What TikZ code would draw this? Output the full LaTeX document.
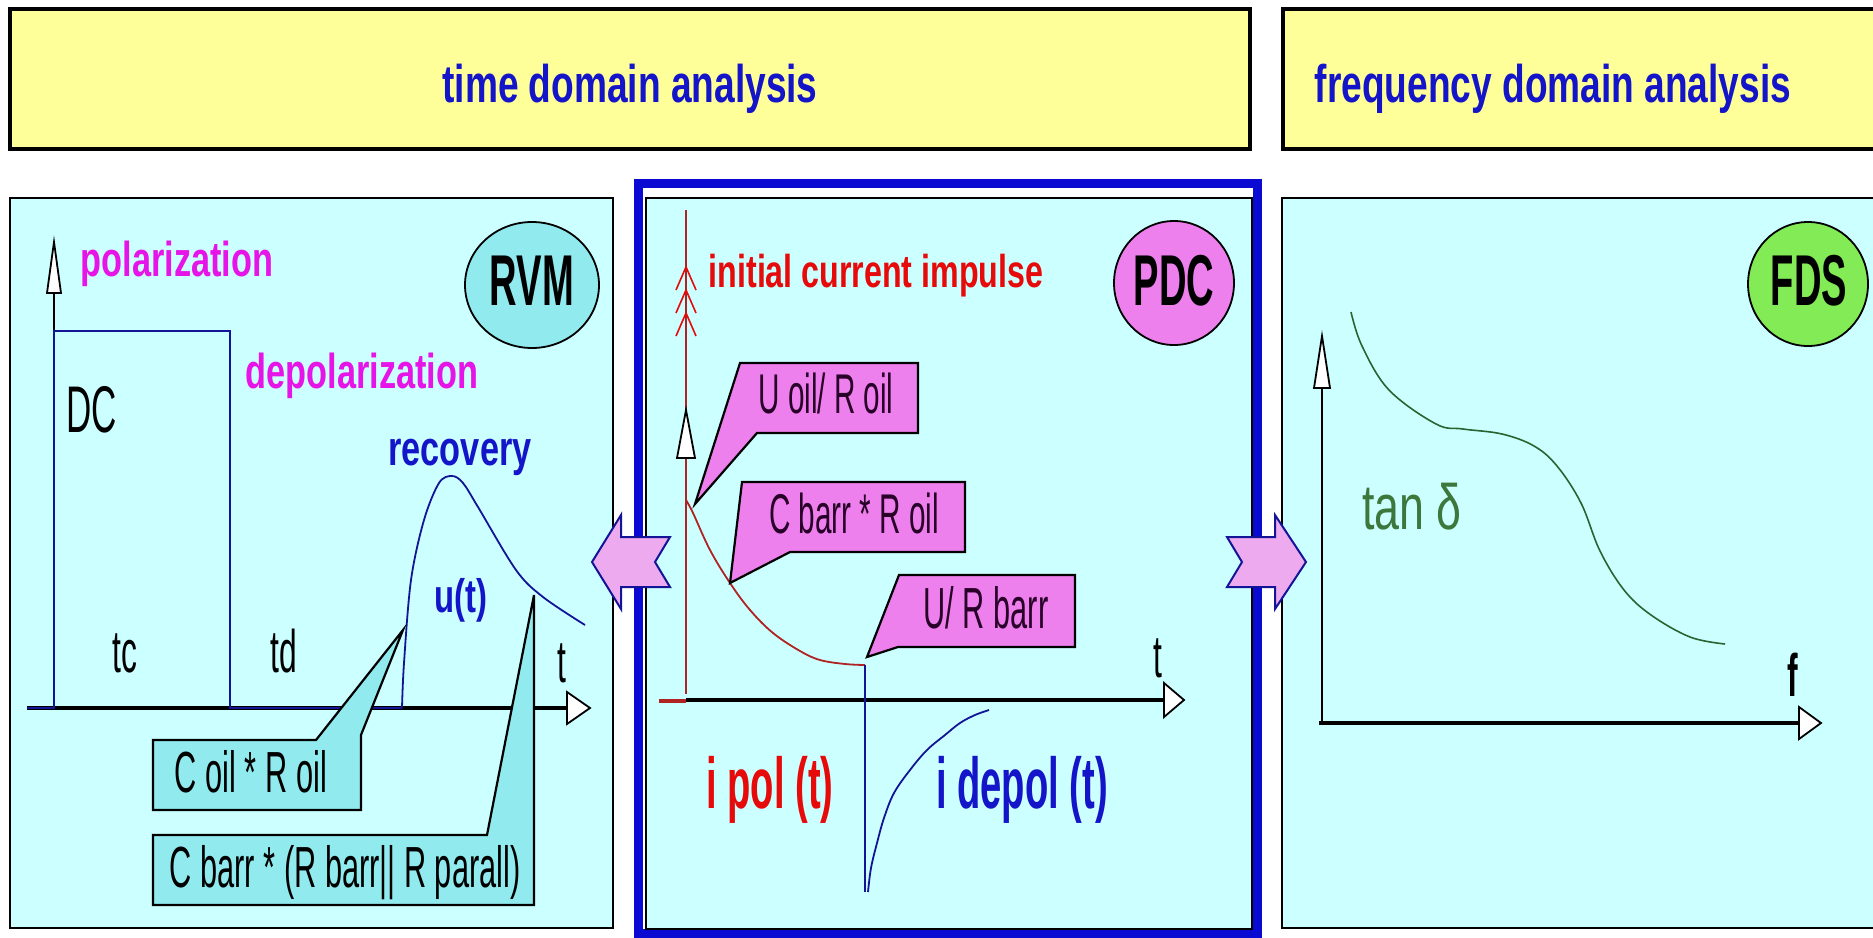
\documentclass[tikz,border=0pt]{standalone}
\usepackage{fontspec}
\setmainfont{Liberation Sans}
\newfontfamily\narrowsans[FakeStretch=0.53]{Liberation Sans}
\newfontfamily\midsans[FakeStretch=0.70]{Liberation Sans}
\newcommand{\fsz}[1]{\fontsize{#1}{#1}\selectfont}

\definecolor{panelcyan}{RGB}{204,255,255}
\definecolor{headyellow}{RGB}{255,255,153}
\definecolor{calloutcyan}{RGB}{145,235,238}
\definecolor{calloutpink}{RGB}{238,128,238}
\definecolor{arrowpink}{RGB}{238,170,238}
\definecolor{fdsgreen}{RGB}{130,235,85}
\definecolor{headblue}{RGB}{20,20,200}
\definecolor{navyline}{RGB}{20,20,150}
\definecolor{pdcblue}{RGB}{10,10,210}
\definecolor{magentatxt}{RGB}{230,20,230}
\definecolor{redtxt}{RGB}{230,10,10}
\definecolor{maroonline}{RGB}{175,35,35}
\definecolor{curvegreen}{RGB}{40,100,50}
\definecolor{tangreen}{RGB}{60,120,60}

\tikzset{
  panel/.style={draw=black, line width=1.3pt, fill=panelcyan},
  headbox/.style={draw=black, line width=2pt, fill=headyellow},
  openhead/.style={draw=black, fill=white, line width=0.9pt, line join=miter},
  axisline/.style={draw=black, line width=1.6pt},
  pulseline/.style={draw=navyline, line width=1.2pt},
  cyancallout/.style={draw=black, line width=1.1pt, fill=calloutcyan, line join=miter},
  pinkcallout/.style={draw=black, line width=1.1pt, fill=calloutpink, line join=miter},
  blockarrow/.style={draw=navyline, line width=1pt, fill=arrowpink, line join=miter},
  txt/.style={inner sep=0pt, anchor=base},
}

\begin{document}
\begin{tikzpicture}[x=0.5pt,y=0.5pt,yscale=-1,xscale=1]
\useasboundingbox (0,0) rectangle (1873,937);
\clip (0,0) rectangle (1873,937);
\fill [white] (0,0) rectangle (1873,937);

%Shape: Rectangle [headers]
\draw [headbox] (10,9) rectangle (1250,149);
\draw [headbox] (1283,9) rectangle (1890,149);
% Text Node
\draw (630,102) node [txt, text=headblue] (timehead) {\midsans\bfseries\fsz{26.5}time domain analysis};
% Text Node
\draw (1553,102) node [txt, text=headblue] (freqhead) {\midsans\bfseries\fsz{26.5}frequency domain analysis};

%Shape: Rectangle [panels]
\draw [panel] (10,198) rectangle (613,928);
\draw [draw=pdcblue, line width=4.5pt] (638,183) rectangle (1257,933);
\draw [panel] (646,198) rectangle (1252,929);
\draw [panel] (1282,198) rectangle (1890,928);

%%%%%%%% RVM panel
%Straight Lines
\draw [axisline] (27,708) -- (567,708);
\draw [openhead] (567,692) -- (590,708) -- (567,724) -- cycle;
\draw [axisline, line width=1.2pt] (54,708) -- (54,293);
\draw [openhead] (47,293) -- (54,242) -- (61,293) -- cycle;
%DC pulse
\draw [pulseline] (27,708) -- (54,708) -- (54,331) -- (230,331) -- (230,708) -- (402,708);
%Curve: recovery
\draw [pulseline, line width=0.9pt] plot [smooth, tension=0.55] coordinates {(402,708) (404,663) (411,580) (424,520) (439,483) (452,476) (463,483) (478,507) (516,570) (543,597) (585,625)};

% Text Node
\draw (177,276) node [txt, text=magentatxt] (poltxt) {\midsans\bfseries\fsz{24.5}polarization};
% Text Node
\draw (362,388) node [txt, text=magentatxt] (depoltxt) {\midsans\bfseries\fsz{24.5}depolarization};
% Text Node
\draw (460,465) node [txt, text=headblue] (recovtxt) {\midsans\bfseries\fsz{24.5}recovery};
% Text Node
\draw (461,612) node [txt, text=headblue] (utxt) {\midsans\bfseries\fsz{23.5}u(t)};
% Text Node
\draw (92,432) node [txt] (dctxt) {\narrowsans\fsz{33}DC};
% Text Node
\draw (125,672) node [txt] (tctxt) {\narrowsans\fsz{30}tc};
% Text Node
\draw (284,672) node [txt] (tdtxt) {\narrowsans\fsz{30}td};
% Text Node
\draw (562,682) node [txt] (tleft) {\narrowsans\fsz{30}t};

%Shape: Callouts
\draw [cyancallout] (153,740) -- (316,740) -- (403,630) -- (361,735) -- (361,810) -- (153,810) -- cycle;
\draw (251,792) node [txt] (coiltxt) {\narrowsans\fsz{29}C oil * R oil};
\draw [cyancallout] (153,835) -- (487,835) -- (534,595) -- (534,905) -- (153,905) -- cycle;
\draw (345,887) node [txt] (cbarrtxt) {\narrowsans\fsz{29}C barr * (R barr|| R parall)};

%Shape: Ellipse
\draw [fill=calloutcyan, line width=0.9pt] (532,285) ellipse [x radius=67, y radius=63];
\draw (532,305) node [txt] (rvmtxt) {\narrowsans\bfseries\fsz{36}RVM};

%%%%%%%% PDC panel
%Straight Lines
\draw [axisline] (686,700) -- (1164,700);
\draw [openhead] (1164,683) -- (1184,700) -- (1164,717) -- cycle;
\draw [draw=maroonline, line width=1.6pt] (659,701) -- (686,701);
\draw [draw=maroonline, line width=0.9pt] (686,210) -- (686,694);
\draw [openhead] (677,458) -- (686,410) -- (695,458) -- cycle;
%initial impulse heads
\foreach \ty in {267,290,313}
  \draw [draw=redtxt, line width=0.8pt] (676,\ty+23) -- (686,\ty) -- (696,\ty+23);
%Curve: i pol
\draw [draw=maroonline, line width=0.9pt] plot [smooth, tension=0.6] coordinates {(686,500) (693,513) (710,550) (730,583) (750,610) (773,633) (800,651) (820,660) (845,664) (865,665)};
%Curve: i depol
\draw [pulseline, line width=1pt] (865,665) -- (865,892);
\draw [pulseline, line width=0.9pt] plot [smooth, tension=0.6] coordinates {(868,892) (871,868) (877,843) (884,818) (894,793) (910,770) (927,750) (945,735) (960,723) (975,715) (989,710)};

%Shape: Callouts
\draw [pinkcallout] (740,363) -- (918,363) -- (918,433) -- (757,433) -- (695,504) -- cycle;
\draw (826,413) node [txt, text={rgb,255:red,40;green,0;blue,40}] (uoiltxt) {\narrowsans\fsz{28}U oil/ R oil};
\draw [pinkcallout] (742,482) -- (965,482) -- (965,552) -- (790,552) -- (730,583) -- cycle;
\draw (854,533) node [txt, text={rgb,255:red,40;green,0;blue,40}] (cbroiltxt) {\narrowsans\fsz{28}C barr * R oil};
\draw [pinkcallout] (899,575) -- (1075,575) -- (1075,647) -- (898,647) -- (867,657) -- cycle;
\draw (986,628) node [txt, text={rgb,255:red,40;green,0;blue,40}] (urbarrtxt) {\narrowsans\fsz{29}U/ R barr};

% Text Node
\draw (876,287) node [txt, text=redtxt] (impulsetxt) {\midsans\bfseries\fsz{23}initial current impulse};
% Text Node
\draw (1158,677) node [txt] (tmid) {\narrowsans\fsz{30}t};
% Text Node
\draw (770,808) node [txt, text=redtxt] (ipoltxt) {\narrowsans\bfseries\fsz{36}i pol (t)};
% Text Node
\draw (1022,808) node [txt, text=headblue] (idepoltxt) {\narrowsans\bfseries\fsz{36}i depol (t)};

%Shape: Ellipse
\draw [fill=calloutpink, line width=0.9pt] (1174,283) ellipse [x radius=60, y radius=62];
\draw (1174,305) node [txt] (pdctxt) {\narrowsans\bfseries\fsz{36}PDC};

%%%%%%%% FDS panel
%Straight Lines
\draw [axisline] (1319,723) -- (1799,723);
\draw [openhead] (1799,707) -- (1821,723) -- (1799,739) -- cycle;
\draw [axisline, line width=1.2pt] (1322,723) -- (1322,388);
\draw [openhead] (1314,388) -- (1322,336) -- (1330,388) -- cycle;
%Curve: tan delta
\draw [draw=curvegreen, line width=0.8pt] plot [smooth, tension=0.6] coordinates {(1351,312) (1362,346) (1389,390) (1436,424) (1463,429) (1502,434) (1534,446) (1557,466) (1581,503) (1600,551) (1624,590) (1651,615) (1690,637) (1725,644)};
% Text Node
\draw (1412,529) node [txt, text=tangreen] (tantxt) {\midsans\fsz{32}tan δ};
% Text Node
\draw (1793,696) node [txt] (ftxt) {\narrowsans\bfseries\fsz{30}f};

%Shape: Ellipse
\draw [fill=fdsgreen, line width=0.9pt] (1808,284) ellipse [x radius=60, y radius=62];
\draw (1809,305) node [txt] (fdstxt) {\narrowsans\bfseries\fsz{36}FDS};

%Shape: Block arrows
\draw [blockarrow] (592,562) -- (621,515) -- (621,537) -- (670,537) -- (655,562) -- (670,587) -- (621,587) -- (621,609) -- cycle;
\draw [blockarrow] (1227,537) -- (1275,537) -- (1275,515) -- (1306,562) -- (1275,609) -- (1275,587) -- (1227,587) -- (1242,562) -- cycle;

\end{tikzpicture}
\end{document}
